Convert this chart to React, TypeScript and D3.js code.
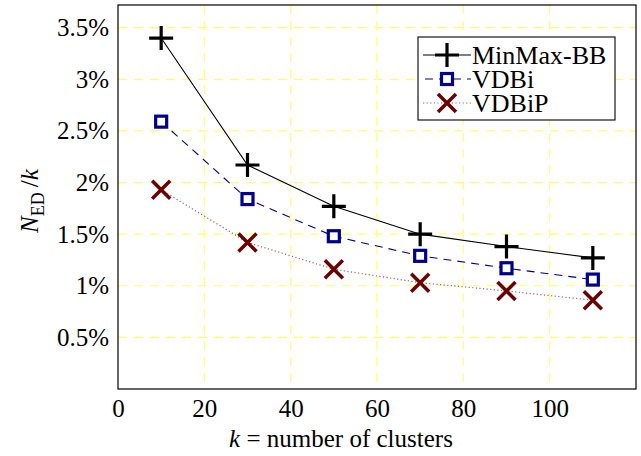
import React, { useEffect, useRef } from 'react';
import * as d3 from 'd3';

// cluster counts (x) and N_ED/k in percent for each method
const clusters = [10, 30, 50, 70, 90, 110];
const minMaxBB = [3.4, 2.17, 1.77, 1.5, 1.38, 1.27];
const vdbi = [2.59, 1.84, 1.48, 1.29, 1.17, 1.06];
const vdbip = [1.93, 1.42, 1.16, 1.03, 0.95, 0.86];

const xTicks = [0, 20, 40, 60, 80, 100];
const yTicks = [0.5, 1, 1.5, 2, 2.5, 3, 3.5];
const seriesNames = ['MinMax-BB', 'VDBi', 'VDBiP'];

const FONT = "'Liberation Serif', 'Times New Roman', 'DejaVu Serif', serif";
const FS = '25px';

const App: React.FC = () => {
  const svgRef = useRef<SVGSVGElement>(null);

  useEffect(() => {
    if (!svgRef.current) return;
    const svg = d3.select(svgRef.current);
    svg.selectAll('*').remove();

    const width = 641;
    const height = 456;
    const margin = { top: 5, right: 5, bottom: 67, left: 118 };
    const innerWidth = width - margin.left - margin.right;
    const innerHeight = height - margin.top - margin.bottom;

    const x = d3.scaleLinear().domain([0, 120]).range([0, innerWidth]);
    const y = d3.scaleLinear().domain([0, 3.72]).range([innerHeight, 0]);

    const g = svg.append('g')
      .attr('transform', `translate(${margin.left},${margin.top})`);

    // Grid lines
    g.append('g')
      .selectAll('line')
      .data(xTicks.filter(d => d > 0))
      .join('line')
      .attr('x1', d => x(d)).attr('x2', d => x(d))
      .attr('y1', 0).attr('y2', innerHeight)
      .attr('stroke', '#ffff70')
      .attr('stroke-width', 1.2)
      .attr('stroke-dasharray', '9 7');

    g.append('g')
      .selectAll('line')
      .data(yTicks)
      .join('line')
      .attr('x1', 0).attr('x2', innerWidth)
      .attr('y1', d => y(d)).attr('y2', d => y(d))
      .attr('stroke', '#ffff70')
      .attr('stroke-width', 1.2)
      .attr('stroke-dasharray', '9 7');

    // Axes (labels only)
    const xAxis = g.append('g')
      .attr('transform', `translate(0,${innerHeight})`)
      .call(d3.axisBottom(x).tickValues(xTicks).tickSize(0).tickPadding(10));
    xAxis.attr('font-family', FONT).attr('font-size', FS);
    xAxis.select('.domain').remove();
    xAxis.selectAll('text').attr('fill', '#000');

    const yAxis = g.append('g')
      .call(d3.axisLeft(y).tickValues(yTicks).tickSize(0).tickPadding(9)
        .tickFormat(d => `${d}%`));
    yAxis.attr('font-family', FONT).attr('font-size', FS);
    yAxis.select('.domain').remove();
    yAxis.selectAll('text').attr('fill', '#000');

    // Frame
    g.append('rect')
      .attr('width', innerWidth)
      .attr('height', innerHeight)
      .attr('fill', 'none')
      .attr('stroke', '#000')
      .attr('stroke-width', 1.2);

    const line = d3.line<number>()
      .x((_, i) => x(clusters[i]))
      .y(d => y(d));

    const drawPlus = (sel: any, cx: number, cy: number) => {
      sel.append('path')
        .attr('d', `M${cx - 12},${cy}H${cx + 12}M${cx},${cy - 12}V${cy + 12}`)
        .attr('stroke', '#000')
        .attr('stroke-width', 3.2)
        .attr('fill', 'none');
    };
    const drawSquare = (sel: any, cx: number, cy: number) => {
      sel.append('rect')
        .attr('x', cx - 5.5).attr('y', cy - 5.5)
        .attr('width', 11).attr('height', 11)
        .attr('fill', '#fff')
        .attr('stroke', '#00008b')
        .attr('stroke-width', 3.2);
    };
    const drawCross = (sel: any, cx: number, cy: number) => {
      sel.append('path')
        .attr('d', `M${cx - 9},${cy - 9}L${cx + 9},${cy + 9}M${cx - 9},${cy + 9}L${cx + 9},${cy - 9}`)
        .attr('stroke', '#6b0000')
        .attr('stroke-width', 3.5)
        .attr('fill', 'none');
    };

    // MinMax-BB
    g.append('path').datum(minMaxBB).attr('d', line)
      .attr('fill', 'none').attr('stroke', '#000').attr('stroke-width', 1.1);
    // VDBi
    g.append('path').datum(vdbi).attr('d', line)
      .attr('fill', 'none').attr('stroke', '#00008b').attr('stroke-width', 1.1)
      .attr('stroke-dasharray', '8 6');
    // VDBiP
    g.append('path').datum(vdbip).attr('d', line)
      .attr('fill', 'none').attr('stroke', '#a06060').attr('stroke-width', 1.2)
      .attr('stroke-dasharray', '1.2 2.4');

    const marks = g.append('g');
    vdbip.forEach((v, i) => drawCross(marks, x(clusters[i]), y(v)));
    vdbi.forEach((v, i) => drawSquare(marks, x(clusters[i]), y(v)));
    minMaxBB.forEach((v, i) => drawPlus(marks, x(clusters[i]), y(v)));

    // Legend
    const leg = svg.append('g').attr('transform', 'translate(418,37)');
    leg.append('rect')
      .attr('width', 197).attr('height', 83)
      .attr('fill', '#fff').attr('stroke', '#000').attr('stroke-width', 1.1);

    const rows = [18, 42, 66];
    leg.append('line').attr('x1', 5).attr('x2', 53).attr('y1', rows[0]).attr('y2', rows[0])
      .attr('stroke', '#000').attr('stroke-width', 1.1);
    drawPlus(leg, 29, rows[0]);
    leg.append('line').attr('x1', 5).attr('x2', 53).attr('y1', rows[1]).attr('y2', rows[1])
      .attr('stroke', '#00008b').attr('stroke-width', 1.1).attr('stroke-dasharray', '8 6')
      .attr('stroke-dashoffset', -2);
    drawSquare(leg, 29, rows[1]);
    leg.append('line').attr('x1', 5).attr('x2', 53).attr('y1', rows[2]).attr('y2', rows[2])
      .attr('stroke', '#a06060').attr('stroke-width', 1.2).attr('stroke-dasharray', '1.2 2.4');
    drawCross(leg, 29, rows[2]);

    leg.selectAll('text.lbl')
      .data(seriesNames)
      .join('text')
      .attr('class', 'lbl')
      .attr('x', 54)
      .attr('y', (_, i) => rows[i])
      .attr('dy', '0.35em')
      .attr('font-family', FONT)
      .attr('font-size', '26px')
      .text(d => d);

    // X-axis label
    const xl = svg.append('text')
      .attr('x', margin.left + innerWidth / 2 - 36)
      .attr('y', 447)
      .attr('text-anchor', 'middle')
      .attr('font-family', FONT)
      .attr('font-size', FS);
    xl.append('tspan').attr('font-style', 'italic').text('k');
    xl.append('tspan').text(' = number of clusters');

    // Y-axis label
    const yl = svg.append('text')
      .attr('transform', `translate(38,${margin.top + innerHeight / 2 + 4}) rotate(-90)`)
      .attr('text-anchor', 'middle')
      .attr('font-family', FONT)
      .attr('font-size', FS);
    yl.append('tspan').attr('font-style', 'italic').text('N');
    yl.append('tspan').attr('dy', 6).attr('font-size', '18px').text('ED');
    yl.append('tspan').attr('dy', -6).text('\u2009/');
    yl.append('tspan').attr('font-style', 'italic').text('k');
  }, []);

  return (
    <svg
      ref={svgRef}
      width={641}
      height={456}
      style={{ display: 'block', position: 'absolute', left: 0, top: 0, background: '#fff' }}
    />
  );
};

export default App;
